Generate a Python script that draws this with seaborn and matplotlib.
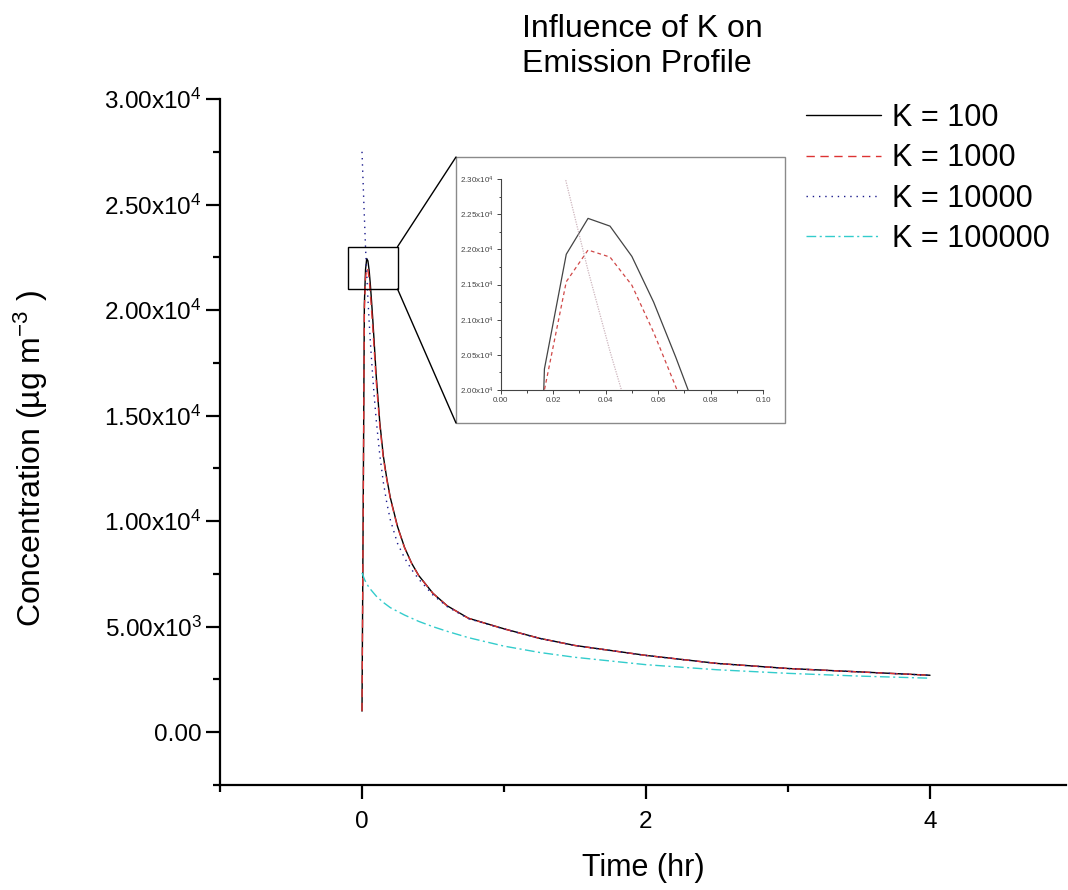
import matplotlib
matplotlib.use("Agg")
import matplotlib.pyplot as plt
import seaborn as sns
import pandas as pd
from matplotlib.patches import Rectangle, ConnectionPatch
from matplotlib.ticker import MultipleLocator

# ---------------- data ----------------
t_main = [0, 0.00833, 0.01667, 0.025, 0.0333, 0.04167, 0.05, 0.0583, 0.0667, 0.075,
          0.0833, 0.1, 0.125, 0.15, 0.175, 0.2, 0.25, 0.3, 0.35, 0.4, 0.5, 0.6,
          0.75, 1.0, 1.25, 1.5, 2.0, 2.5, 3.0, 3.5, 4.0]
c_k100 = [1000, 10500, 20300, 21930, 22440, 22330, 21900, 21250, 20470, 19650,
          18750, 16900, 14700, 13100, 12000, 11100, 9750, 8750, 8000, 7420, 6580, 5990,
          5400, 4900, 4450, 4110, 3640, 3260, 3020, 2860, 2700]
c_k1000 = [1000, 10300, 20000, 21540, 21990, 21890, 21490, 20820, 20050, 19250,
           18400, 16650, 14550, 13000, 11950, 11050, 9720, 8730, 7990, 7410, 6575, 5985,
           5395, 4895, 4448, 4108, 3638, 3258, 3018, 2858, 2698]
c_k10000 = [27500, 25950, 24420, 22950, 21700, 20550, 19500, 18550, 17700, 16900,
            16150, 14800, 13150, 11850, 10850, 10050, 8950, 8250, 7700, 7250, 6500, 5950,
            5380, 4890, 4445, 4105, 3636, 3256, 3016, 2856, 2696]
t_k100000 = [0, 0.02, 0.05, 0.1, 0.15, 0.2, 0.3, 0.4, 0.5, 0.6, 0.75, 1.0, 1.25, 1.5,
             2.0, 2.5, 3.0, 3.5, 4.0]
c_k100000 = [7550, 7200, 6850, 6450, 6150, 5900, 5550, 5250, 5000, 4780, 4480, 4080,
             3780, 3550, 3200, 2960, 2790, 2660, 2560]

series_labels = ["K = 100", "K = 1000", "K = 10000", "K = 100000"]

x_ticks = [0, 2, 4]
x_tick_labels = ["0", "2", "4"]
y_ticks = [0, 5000, 10000, 15000, 20000, 25000, 30000]
y_tick_labels = ["0.00", r"5.00x10$^{3}$", r"1.00x10$^{4}$", r"1.50x10$^{4}$",
                 r"2.00x10$^{4}$", r"2.50x10$^{4}$", r"3.00x10$^{4}$"]
inset_x_ticks = [0.00, 0.02, 0.04, 0.06, 0.08, 0.10]
inset_x_tick_labels = ["0.00", "0.02", "0.04", "0.06", "0.08", "0.10"]
inset_y_ticks = [20000, 20500, 21000, 21500, 22000, 22500, 23000]
inset_y_tick_labels = [r"2.00x10$^{4}$", r"2.05x10$^{4}$", r"2.10x10$^{4}$",
                       r"2.15x10$^{4}$", r"2.20x10$^{4}$", r"2.25x10$^{4}$",
                       r"2.30x10$^{4}$"]

# ---------------- styling ----------------
sns.set_style("ticks")
plt.rcParams['font.family'] = ['Liberation Sans', 'DejaVu Sans']
plt.rcParams['mathtext.default'] = 'regular'
plt.rcParams['text.color'] = 'black'
plt.rcParams['axes.labelcolor'] = 'black'
plt.rcParams['xtick.color'] = 'black'
plt.rcParams['ytick.color'] = 'black'

W, H = 1068, 890
fig = plt.figure(figsize=(W / 100, H / 100), dpi=100)

def fx(px):
    return px / W

def fy(py):
    return 1 - py / H

ax = fig.add_axes([fx(220), fy(785), fx(1066 - 220), (785 - 99) / H])

frames = [
    (pd.DataFrame({"t": t_main, "c": c_k100}), series_labels[0], "black", (None, None)),
    (pd.DataFrame({"t": t_main, "c": c_k1000}), series_labels[1], "#dd3333", (6, 4)),
    (pd.DataFrame({"t": t_main, "c": c_k10000}), series_labels[2], "#1a1a8c", (1, 3.5)),
    (pd.DataFrame({"t": t_k100000, "c": c_k100000}), series_labels[3], "#33cccc", (7, 2.5, 1.5, 2.5)),
]

for df, lab, col, dash in frames:
    sns.lineplot(data=df, x="t", y="c", ax=ax, color=col, label=lab,
                 estimator=None, sort=False, lw=1.0)
    ln = ax.get_lines()[-1]
    if dash[0] is not None:
        ln.set_dashes(dash)

ax.set_xlim(-1, (1066 - 362) / 142)
ax.set_ylim(-2500, 30000)
ax.set_xticks(x_ticks)
ax.set_xticklabels(x_tick_labels)
ax.set_yticks(y_ticks)
ax.set_yticklabels(y_tick_labels)
ax.xaxis.set_minor_locator(MultipleLocator(1))
ax.yaxis.set_minor_locator(MultipleLocator(2500))
ax.tick_params(which='major', direction='out', length=10, width=1.6,
               labelsize=17.5, colors='black')
ax.tick_params(which='minor', direction='out', length=5, width=1.6, colors='black')
ax.tick_params(axis='x', which='major', pad=9)
ax.tick_params(axis='y', which='major', pad=3)
for s in ['top', 'right']:
    ax.spines[s].set_visible(False)
for s in ['left', 'bottom']:
    ax.spines[s].set_linewidth(1.6)
    ax.spines[s].set_color('black')

ax.set_xlabel("Time (hr)", fontsize=22, labelpad=14)
ax.set_ylabel(r"Concentration (µg m$^{-3}$ )", fontsize=23)
ax.yaxis.set_label_coords((50 - 220) / 846, (785 - 459) / 686)

leg = ax.legend(loc='upper left', bbox_to_anchor=(fx(806), fy(103)),
                bbox_transform=fig.transFigure, frameon=False, fontsize=22,
                handlelength=2.45, handletextpad=0.35, labelspacing=0.34,
                borderpad=0, borderaxespad=0)
for lh in leg.get_lines():
    lh.set_linewidth(1.0)
for tx in leg.get_texts():
    tx.set_color('black')

# zoom box on main axes
ax.add_patch(Rectangle((-0.1, 21000), 0.35, 2000, fill=False, ec='black', lw=1.0, zorder=5))

# inset frame
fx0, fy0, fx1, fy1 = fx(456), fy(423), fx(785), fy(157)
fig.add_artist(Rectangle((fx0, fy0), fx1 - fx0, fy1 - fy0, transform=fig.transFigure,
                         fill=False, ec='#8a8a8a', lw=1.0))
for ya, yb in [(23000, fy1), (21000, fy0)]:
    cp = ConnectionPatch(xyA=(0.25, ya), coordsA=ax.transData,
                         xyB=(fx0, yb), coordsB=fig.transFigure,
                         color='black', lw=1.0)
    fig.add_artist(cp)

# inset axes
axin = fig.add_axes([fx(500.7), fy(390), fx(763 - 500.7), (390 - 179) / H])
inset_styles = [
    (c_k100, t_main, "#444444", (None, None)),
    (c_k1000, t_main, "#d04848", (3, 2.5)),
    (c_k10000, t_main, "#cdb5bd", (1, 1)),
]
for vals, tt, col, dash in inset_styles:
    sns.lineplot(x=tt, y=vals, ax=axin, color=col, lw=0.9, estimator=None, sort=False)
    ln = axin.get_lines()[-1]
    if dash[0] is not None:
        ln.set_dashes(dash)
axin.set_xlim(0, 0.10)
axin.set_ylim(20000, 23000)
axin.set_xticks(inset_x_ticks)
axin.set_xticklabels(inset_x_tick_labels)
axin.set_yticks(inset_y_ticks)
axin.set_yticklabels(inset_y_tick_labels)
axin.xaxis.set_minor_locator(MultipleLocator(0.01))
axin.yaxis.set_minor_locator(MultipleLocator(250))
axin.tick_params(which='major', direction='out', length=3, width=0.7,
                 labelsize=5.8, colors='#444444', pad=2)
axin.tick_params(which='minor', direction='out', length=1.8, width=0.7, colors='#444444')
for s in ['top', 'right']:
    axin.spines[s].set_visible(False)
for s in ['left', 'bottom']:
    axin.spines[s].set_linewidth(0.8)
    axin.spines[s].set_color('#444444')
axin.set_facecolor('none')
axin.set_xlabel("")
axin.set_ylabel("")

fig.text(fx(522), fy(14), "Influence of K on\nEmission Profile", ha='left', va='top',
         fontsize=23, linespacing=1.2, color='black')

fig.savefig("out.png", dpi=100)
